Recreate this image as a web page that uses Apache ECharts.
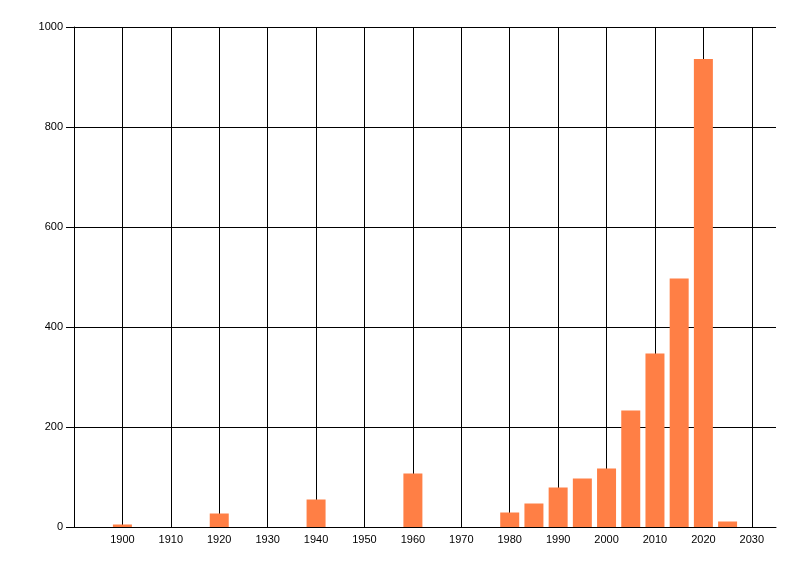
<!DOCTYPE html>
<html>
<head>
<meta charset="utf-8">
<script src="https://cdn.jsdelivr.net/npm/echarts@6/dist/echarts.min.js"></script>
<style>
    html, body { margin: 0; padding: 0; background: #fff; }
    #chart { width: 800px; height: 576px; }
</style>
</head>
<body>
<div id="chart"></div>
<script type="text/javascript">
    // 数据
    var years = [1900, 1920, 1940, 1960, 1980, 1985, 1990, 1995, 2000, 2005, 2010, 2015, 2020, 2025];
    var counts = [5, 27, 55, 107, 29, 47, 79, 97, 117, 233, 347, 497, 936, 11];
    var xMin = 1890, xMax = 2035, xStep = 10;
    var yMin = 0, yMax = 1000, yStep = 200;

    var points = [];
    for (var i = 0; i < years.length; i++) {
        points.push([years[i], counts[i]]);
    }

    var myChart = echarts.init(document.getElementById("chart"));
    var font = {fontFamily: 'Liberation Sans', fontSize: 11, color: '#000'};

    var option = {
        animation: false,
        backgroundColor: '#fff',
        grid: {left: 74, right: 24, top: 27, bottom: 49},
        xAxis: {
            type: 'value',
            min: xMin,
            max: xMax,
            interval: xStep,
            axisLine: {show: true, lineStyle: {color: '#000', width: 1}},
            axisTick: {show: false},
            axisLabel: {
                fontFamily: font.fontFamily, fontSize: font.fontSize, color: font.color,
                margin: 7,
                formatter: function (v) {
                    if (v === xMin || v % xStep !== 0) return '';
                    return String(v);
                }
            },
            splitLine: {show: true, showMinLine: false, showMaxLine: false, lineStyle: {color: '#000', width: 1}}
        },
        yAxis: {
            type: 'value',
            min: yMin,
            max: yMax,
            interval: yStep,
            axisLine: {show: true, lineStyle: {color: '#000', width: 1}},
            axisTick: {show: true, length: 8, lineStyle: {color: '#000'}},
            axisLabel: {
                fontFamily: font.fontFamily, fontSize: font.fontSize, color: font.color, margin: 11,
                formatter: function (v) { return String(v); }
            },
            splitLine: {show: true, lineStyle: {color: '#000', width: 1}}
        },
        series: [{
            type: 'bar',
            barWidth: 19,
            itemStyle: {color: '#ff7f45'},
            data: points
        }]
    };
    myChart.setOption(option, true);
</script>
</body>
</html>
